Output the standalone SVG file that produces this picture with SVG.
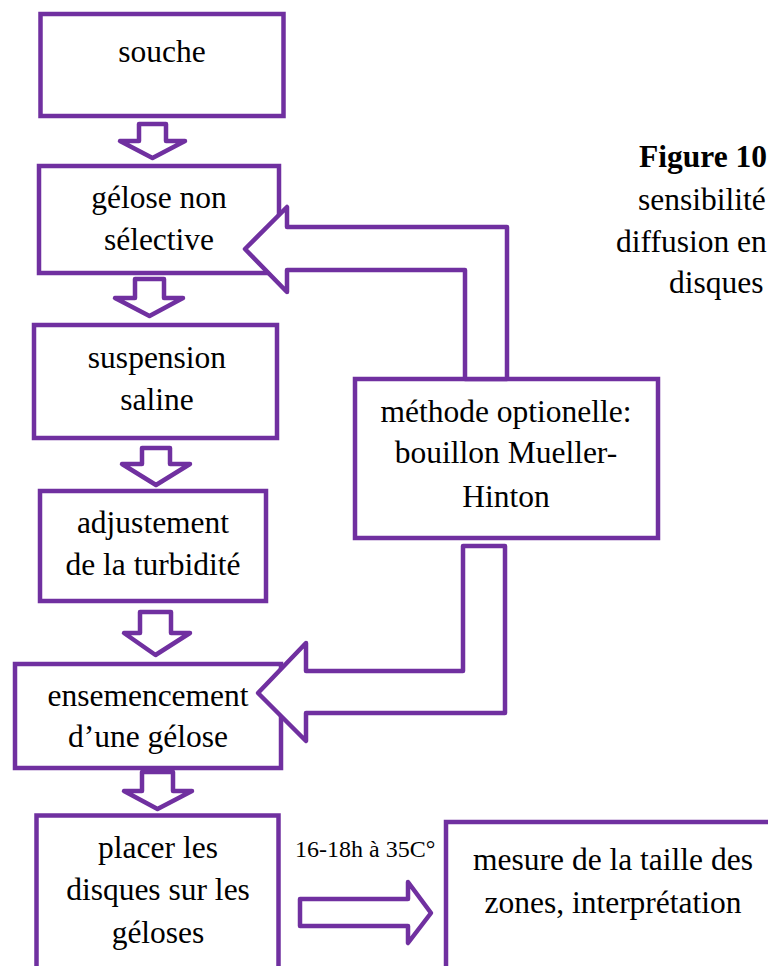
<svg xmlns="http://www.w3.org/2000/svg" width="768" height="966" viewBox="0 0 768 966" font-family="'Liberation Serif', 'Times New Roman', Times, serif">
<style>
.box{fill:#fff;stroke:#7030A0;stroke-width:4.5}
.arr{fill:#fff;stroke:#7030A0;stroke-width:4.5;stroke-linejoin:round}
.t{font-family:'Liberation Serif','Times New Roman',Times,serif;font-size:31.5px;fill:#000;text-anchor:middle}
.cap{font-family:'Liberation Serif','Times New Roman',Times,serif;font-size:31.5px;fill:#000}
.lbl{font-family:'Liberation Serif','Times New Roman',Times,serif;font-size:24px;fill:#000}
</style>
<rect width="768" height="966" fill="#fff"/>
<g id="caption">
<text class="cap" x="639" y="167" font-weight="bold">Figure 10</text>
<text class="cap" x="638" y="210">sensibilité</text>
<text class="cap" x="616" y="252">diffusion en</text>
<text class="cap" x="669" y="293">disques</text>
</g>
<g id="souche"><rect class="box" x="40.5" y="14" width="243" height="102"/><text class="t" x="162" y="62">souche</text></g>
<g id="gelose"><rect class="box" x="39" y="166" width="240" height="107"/><text class="t" x="159" y="208">gélose non</text><text class="t" x="159" y="250">sélective</text></g>
<g id="suspension"><rect class="box" x="34" y="325" width="243" height="113"/><text class="t" x="157" y="368">suspension</text><text class="t" x="157" y="410">saline</text></g>
<g id="adjustement"><rect class="box" x="40" y="491" width="226" height="110"/><text class="t" x="153" y="533">adjustement</text><text class="t" x="153" y="575">de la turbidité</text></g>
<g id="ensemencement"><rect class="box" x="15" y="664" width="266" height="104"/><text class="t" x="148" y="706">ensemencement</text><text class="t" x="148" y="747">d’une gélose</text></g>
<g id="placer"><rect class="box" x="36.5" y="815.5" width="242" height="200"/><text class="t" x="158" y="858">placer les</text><text class="t" x="158" y="900">disques sur les</text><text class="t" x="158" y="943">géloses</text></g>
<g id="mesure"><rect class="box" x="446" y="822" width="400" height="200"/><text class="t" x="613" y="870">mesure de la taille des</text><text class="t" x="613" y="913">zones, interprétation</text></g>
<g id="methode"><rect class="box" x="355" y="379" width="303" height="159"/><text class="t" x="506" y="422">méthode optionelle:</text><text class="t" x="506" y="463">bouillon Mueller-</text><text class="t" x="506" y="507">Hinton</text></g>
<g id="connectors">
<polygon class="arr" points="139,124 166,124 166,141 185,141 152.5,158 120,141 139,141"/>
<polygon class="arr" points="135,279 164,279 164,298 183,298 149.5,316 115,298 135,298"/>
<polygon class="arr" points="142,448 170,448 170,464 190,464 156,485 122,464 142,464"/>
<polygon class="arr" points="140,612 171,612 171,633 190,633 155.5,655 124,633 140,633"/>
<polygon class="arr" points="142,772 173,772 173,791 192,791 157.5,809 124,791 142,791"/>
<polygon class="arr" points="300,899 408,899 408,882 431,913 408,943 408,926 300,926"/>
<polygon class="arr" points="465,379 465,270 287,270 287,292 245,249 287,207 287,227 507,227 507,379"/>
<polygon class="arr" points="463,546 463,671 306,671 306,643 258,693 306,741 306,713 505,713 505,546"/>
<text class="lbl" x="295" y="857">16-18h à 35C°</text>
</g>
</svg>
